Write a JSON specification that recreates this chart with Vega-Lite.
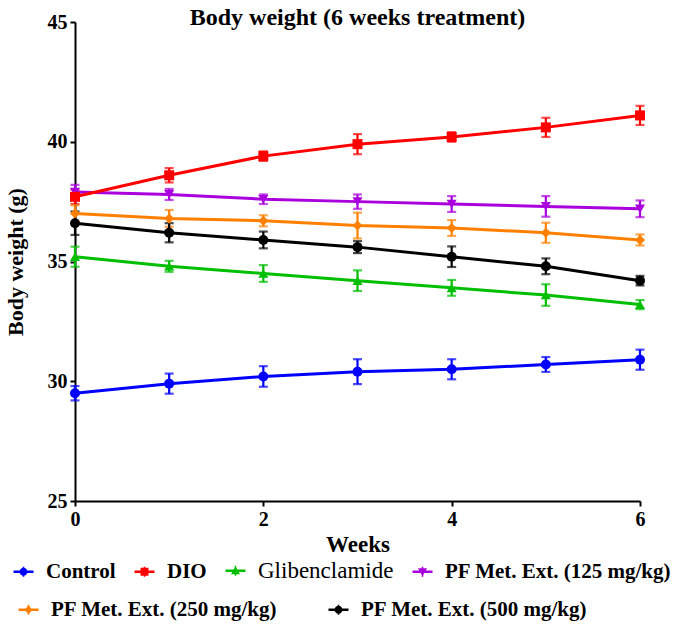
{
  "$schema": "https://vega.github.io/schema/vega-lite/v6.json",
  "autosize": "none",
  "width": 565,
  "height": 479,
  "padding": {"left": 75, "top": 22, "right": 45, "bottom": 128},
  "background": "white",
  "config": {
    "view": {"stroke": null},
    "font": "Liberation Serif",
    "axis": {
      "grid": false,
      "domainColor": "black",
      "domainWidth": 2,
      "tickColor": "black",
      "tickWidth": 2,
      "tickSize": 5,
      "labelColor": "black",
      "labelFont": "Liberation Serif",
      "labelFontWeight": "bold",
      "labelFontSize": 20,
      "labelFlush": false,
      "titleColor": "black",
      "titleFont": "Liberation Serif",
      "titleFontWeight": "bold"
    }
  },
  "title": {
    "text": "Body weight (6 weeks treatment)",
    "font": "Liberation Serif",
    "fontSize": 24,
    "fontWeight": "bold",
    "color": "black",
    "anchor": "middle",
    "offset": -18
  },
  "datasets": {
    "setA": [
      {"Group": "Control", "Week": 0, "Weight": 29.5, "SEM": 0.3},
      {"Group": "Control", "Week": 1, "Weight": 29.9, "SEM": 0.42},
      {"Group": "Control", "Week": 2, "Weight": 30.2, "SEM": 0.43},
      {"Group": "Control", "Week": 3, "Weight": 30.4, "SEM": 0.52},
      {"Group": "Control", "Week": 4, "Weight": 30.5, "SEM": 0.42},
      {"Group": "Control", "Week": 5, "Weight": 30.7, "SEM": 0.31},
      {"Group": "Control", "Week": 6, "Weight": 30.9, "SEM": 0.42},
      {"Group": "Glibenclamide", "Week": 0, "Weight": 35.2, "SEM": 0.42},
      {"Group": "Glibenclamide", "Week": 1, "Weight": 34.8, "SEM": 0.23},
      {"Group": "Glibenclamide", "Week": 2, "Weight": 34.5, "SEM": 0.35},
      {"Group": "Glibenclamide", "Week": 3, "Weight": 34.2, "SEM": 0.43},
      {"Group": "Glibenclamide", "Week": 4, "Weight": 33.9, "SEM": 0.33},
      {"Group": "Glibenclamide", "Week": 5, "Weight": 33.6, "SEM": 0.45},
      {"Group": "Glibenclamide", "Week": 6, "Weight": 33.2, "SEM": 0.19},
      {"Group": "PF Met. Ext. (125 mg/kg)", "Week": 0, "Weight": 37.9, "SEM": 0.3},
      {"Group": "PF Met. Ext. (125 mg/kg)", "Week": 1, "Weight": 37.8, "SEM": 0.23},
      {"Group": "PF Met. Ext. (125 mg/kg)", "Week": 2, "Weight": 37.6, "SEM": 0.2},
      {"Group": "PF Met. Ext. (125 mg/kg)", "Week": 3, "Weight": 37.5, "SEM": 0.3},
      {"Group": "PF Met. Ext. (125 mg/kg)", "Week": 4, "Weight": 37.4, "SEM": 0.33},
      {"Group": "PF Met. Ext. (125 mg/kg)", "Week": 5, "Weight": 37.3, "SEM": 0.43},
      {"Group": "PF Met. Ext. (125 mg/kg)", "Week": 6, "Weight": 37.2, "SEM": 0.35},
      {"Group": "DIO", "Week": 0, "Weight": 37.7, "SEM": 0.3},
      {"Group": "DIO", "Week": 1, "Weight": 38.6, "SEM": 0.3},
      {"Group": "DIO", "Week": 2, "Weight": 39.4, "SEM": 0.2},
      {"Group": "DIO", "Week": 3, "Weight": 39.9, "SEM": 0.42},
      {"Group": "DIO", "Week": 4, "Weight": 40.2, "SEM": 0.2},
      {"Group": "DIO", "Week": 5, "Weight": 40.6, "SEM": 0.4},
      {"Group": "DIO", "Week": 6, "Weight": 41.1, "SEM": 0.4}
    ],
    "setB": [
      {"Group": "PF Met. Ext. (250 mg/kg)", "Week": 0, "Weight": 37.0, "SEM": 0.35},
      {"Group": "PF Met. Ext. (250 mg/kg)", "Week": 1, "Weight": 36.8, "SEM": 0.35},
      {"Group": "PF Met. Ext. (250 mg/kg)", "Week": 2, "Weight": 36.7, "SEM": 0.23},
      {"Group": "PF Met. Ext. (250 mg/kg)", "Week": 3, "Weight": 36.5, "SEM": 0.54},
      {"Group": "PF Met. Ext. (250 mg/kg)", "Week": 4, "Weight": 36.4, "SEM": 0.33},
      {"Group": "PF Met. Ext. (250 mg/kg)", "Week": 5, "Weight": 36.2, "SEM": 0.42},
      {"Group": "PF Met. Ext. (250 mg/kg)", "Week": 6, "Weight": 35.9, "SEM": 0.23},
      {"Group": "PF Met. Ext. (500 mg/kg)", "Week": 0, "Weight": 36.6, "SEM": 0.49},
      {"Group": "PF Met. Ext. (500 mg/kg)", "Week": 1, "Weight": 36.2, "SEM": 0.4},
      {"Group": "PF Met. Ext. (500 mg/kg)", "Week": 2, "Weight": 35.9, "SEM": 0.35},
      {"Group": "PF Met. Ext. (500 mg/kg)", "Week": 3, "Weight": 35.6, "SEM": 0.25},
      {"Group": "PF Met. Ext. (500 mg/kg)", "Week": 4, "Weight": 35.2, "SEM": 0.43},
      {"Group": "PF Met. Ext. (500 mg/kg)", "Week": 5, "Weight": 34.8, "SEM": 0.33},
      {"Group": "PF Met. Ext. (500 mg/kg)", "Week": 6, "Weight": 34.2, "SEM": 0.2}
    ]
  },
  "encoding": {
    "x": {
      "field": "Week", "type": "quantitative",
      "scale": {"domain": [0, 6], "nice": false, "zero": false},
      "axis": {"values": [0, 2, 4, 6], "title": "Weeks", "titleFontSize": 23, "titlePadding": 4, "labelPadding": 3}
    },
    "y": {
      "field": "Weight", "type": "quantitative",
      "scale": {"domain": [25, 45], "nice": false, "zero": false},
      "axis": {"values": [25, 30, 35, 40, 45], "title": "Body weight (g)", "titleFontSize": 22, "titlePadding": 20, "labelPadding": 3}
    }
  },
  "layer": [
    {
      "data": {"name": "setA"},
      "encoding": {
        "color": {
          "field": "Group", "type": "nominal",
          "scale": {"domain": ["Control", "DIO", "Glibenclamide", "PF Met. Ext. (125 mg/kg)"], "range": ["#0000FF", "#FF0000", "#00BE00", "#AA00DD"]},
          "legend": {
            "title": null,
            "orient": "none",
            "direction": "horizontal",
            "legendX": -62,
            "legendY": 538,
            "columnPadding": 18,
            "labelOffset": 12,
            "symbolSize": 400,
            "labelFont": "Liberation Serif",
            "labelFontSize": 21,
            "labelFontWeight": "bold",
            "labelColor": "black",
            "labelLimit": 400,
            "encode": {
              "symbols": {"update": {
                "shape": {"signal": "datum.value == 'Control' ? 'M-1,-0.12H1V0.12H-1Z M-0.08,-0.5H0.08V0.5H-0.08Z M-0.4,0A0.4,0.4,0,1,1,0.4,0A0.4,0.4,0,1,1,-0.4,0Z' : datum.value == 'DIO' ? 'M-1,-0.12H1V0.12H-1Z M-0.08,-0.5H0.08V0.5H-0.08Z M-0.4,-0.4H0.4V0.4H-0.4Z' : datum.value == 'Glibenclamide' ? 'M-1,-0.12H1V0.12H-1Z M-0.08,-0.5H0.08V0.5H-0.08Z M0,-0.45L0.45,0.35H-0.45Z' : 'M-1,-0.12H1V0.12H-1Z M-0.08,-0.5H0.08V0.5H-0.08Z M0,0.45L-0.45,-0.35H0.45Z'"},
                "fill": {"signal": "datum.value == 'Control' ? '#0000FF' : datum.value == 'DIO' ? '#FF0000' : datum.value == 'Glibenclamide' ? '#00BE00' : '#AA00DD'"},
                "fillOpacity": {"value": 1},
                "opacity": {"value": 1},
                "strokeWidth": {"value": 0}
              }},
              "labels": {"update": {
                "fontWeight": {"signal": "datum.label == 'Glibenclamide' ? 'normal' : 'bold'"},
                "fontSize": {"signal": "datum.label == 'Glibenclamide' ? 23 : 21"}
              }}
            }
          }
        }
      },
      "layer": [
        {"mark": {"type": "errorbar", "ticks": {"size": 9, "thickness": 2.2}, "thickness": 2.2}, "encoding": {"yError": {"field": "SEM"}}},
        {"mark": {"type": "line", "strokeWidth": 3}},
        {"mark": {"type": "point", "filled": true, "opacity": 1, "size": 100},
         "encoding": {"shape": {"field": "Group", "type": "nominal", "legend": null,
           "scale": {"domain": ["DIO", "Control", "Glibenclamide", "PF Met. Ext. (125 mg/kg)"], "range": ["square", "circle", "triangle-up", "triangle-down"]}}}}
      ]
    },
    {
      "data": {"name": "setB"},
      "encoding": {
        "color": {
          "field": "Group", "type": "nominal",
          "scale": {"domain": ["PF Met. Ext. (250 mg/kg)", "PF Met. Ext. (500 mg/kg)"], "range": ["#FF8000", "#000000"]},
          "legend": {
            "title": null,
            "orient": "none",
            "direction": "horizontal",
            "legendX": -57,
            "legendY": 577,
            "columnPadding": 50,
            "labelOffset": 12,
            "symbolSize": 400,
            "labelFont": "Liberation Serif",
            "labelFontSize": 21,
            "labelFontWeight": "bold",
            "labelColor": "black",
            "labelLimit": 400,
            "encode": {
              "symbols": {"update": {
                "shape": {"signal": "datum.value == 'PF Met. Ext. (250 mg/kg)' ? 'M-1,-0.12H1V0.12H-1Z M-0.08,-0.5H0.08V0.5H-0.08Z M0,-0.45L0.4,0L0,0.45L-0.4,0Z' : 'M-1,-0.12H1V0.12H-1Z M-0.08,-0.5H0.08V0.5H-0.08Z M-0.4,0A0.4,0.4,0,1,1,0.4,0A0.4,0.4,0,1,1,-0.4,0Z'"},
                "fill": {"signal": "datum.value == 'PF Met. Ext. (250 mg/kg)' ? '#FF8000' : '#000000'"},
                "fillOpacity": {"value": 1},
                "opacity": {"value": 1},
                "strokeWidth": {"value": 0}
              }}
            }
          }
        }
      },
      "layer": [
        {"mark": {"type": "errorbar", "ticks": {"size": 9, "thickness": 2.2}, "thickness": 2.2}, "encoding": {"yError": {"field": "SEM"}}},
        {"mark": {"type": "line", "strokeWidth": 3}},
        {"mark": {"type": "point", "filled": true, "opacity": 1, "size": 100},
         "encoding": {"shape": {"field": "Group", "type": "nominal", "legend": null,
           "scale": {"domain": ["PF Met. Ext. (500 mg/kg)", "PF Met. Ext. (250 mg/kg)"], "range": ["circle", "diamond"]}}}}
      ]
    }
  ],
  "resolve": {"scale": {"color": "independent", "shape": "independent"}}
}
